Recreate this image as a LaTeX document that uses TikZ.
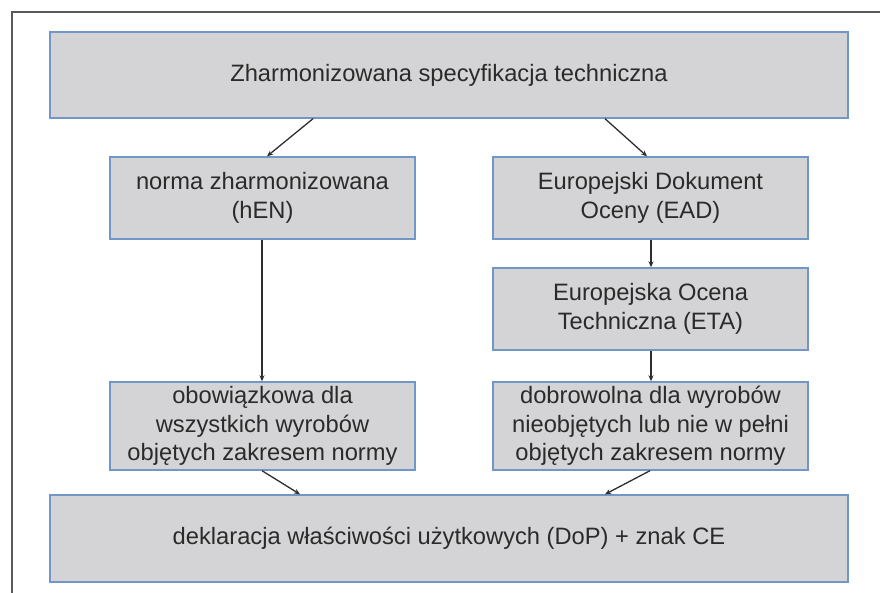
\documentclass[tikz,border=0pt]{standalone}
\usepackage{fontspec}
\setmainfont{Liberation Sans}
\usetikzlibrary{arrows.meta}
\definecolor{boxfill}{HTML}{D4D4D6}
\definecolor{boxline}{HTML}{7196C8}
\definecolor{txt}{HTML}{2A2A2A}
\definecolor{arrowc}{HTML}{2E2E2E}
\definecolor{framec}{HTML}{5A5A5A}
\tikzset{
  box/.style={draw=boxline, line width=1.4pt, fill=boxfill, text=txt,
    align=center, inner sep=0pt, font=\fontsize{23.7}{28.5}\selectfont},
  arr/.style={draw=arrowc, line width=1.3pt, -{Stealth[length=6pt,width=5pt]}},
}
\begin{document}
\begin{tikzpicture}[x=1pt,y=-1pt]
\useasboundingbox (0,0) rectangle (880,593);
\draw[framec, line width=1.2pt] (12,593) -- (12,12) -- (880,12);

\node[box, minimum width=798pt, minimum height=86pt] (top) at (449,75) {Zharmonizowana specyfikacja techniczna};
\node[box, minimum width=305pt, minimum height=82pt] (hen) at (262.5,198) {norma zharmonizowana\\(hEN)};
\node[box, minimum width=315pt, minimum height=82pt] (ead) at (650.5,198) {Europejski Dokument\\Oceny (EAD)};
\node[box, minimum width=315pt, minimum height=82pt] (eta) at (650.5,309) {Europejska Ocena\\Techniczna (ETA)};
\node[box, minimum width=305pt, minimum height=88pt] (obow) at (262.5,426) {obowiązkowa dla\\wszystkich wyrobów\\objętych zakresem normy};
\node[box, minimum width=315pt, minimum height=88pt] (dobro) at (650.5,426) {dobrowolna dla wyrobów\\nieobjętych lub nie w pełni\\objętych zakresem normy};
\node[box, minimum width=798pt, minimum height=87pt] (dop) at (449,538.5) {deklaracja właściwości użytkowych (DoP) + znak CE};

\draw[arr] (top.south -| 313,0) -- (hen.north -| 267,0);
\draw[arr] (top.south -| 605,0) -- (ead.north -| 647,0);
\draw[arr] (hen.south -| 262,0) -- (obow.north -| 262,0);
\draw[arr] (ead.south -| 651,0) -- (eta.north -| 651,0);
\draw[arr] (eta.south -| 651,0) -- (dobro.north -| 651,0);
\draw[arr] (obow.south -| 262,0) -- (dop.north -| 300,0);
\draw[arr] (dobro.south -| 650,0) -- (dop.north -| 605,0);
\end{tikzpicture}
\end{document}
